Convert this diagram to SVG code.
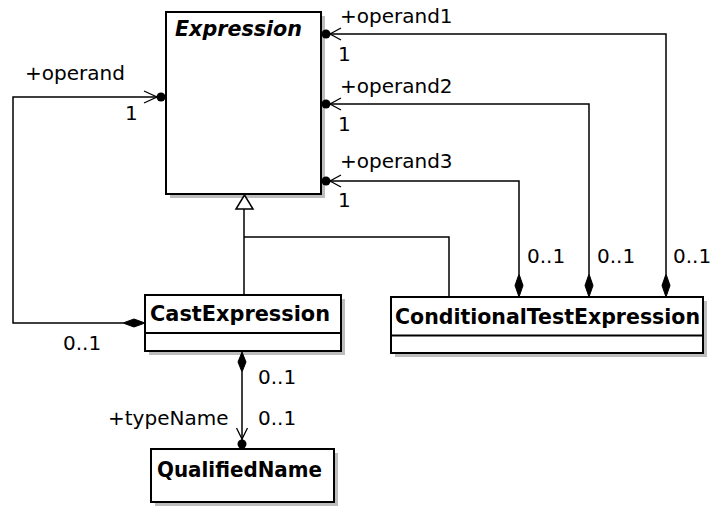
<svg xmlns="http://www.w3.org/2000/svg" width="711" height="506" viewBox="0 0 711 506">
<style>
.shadow{fill:#bdbdbd;stroke:none}
.box{fill:#fff;stroke:#000;stroke-width:2}
.div{stroke:#000;stroke-width:2}
.name{font-family:"DejaVu Sans",sans-serif;font-weight:bold;font-size:21px;fill:#000}
.lbl{font-family:"DejaVu Sans",sans-serif;font-size:20px;fill:#000}
.ln{fill:none;stroke:#000;stroke-width:1.5}
.dia{fill:#000;stroke:#000;stroke-width:1}
.dot{fill:#000}
.arr{fill:none;stroke:#000;stroke-width:1.3}
</style>
<rect width="711" height="506" fill="#fff"/>
<g id="Expression">
  <rect class="shadow" x="170" y="16" width="155" height="182"/>
  <rect class="box" x="166" y="12" width="155" height="182"/>
  <text class="name" x="175" y="36" font-style="italic" textLength="127" lengthAdjust="spacingAndGlyphs">Expression</text>
</g>
<g id="CastExpression">
  <rect class="shadow" x="149" y="299" width="196" height="56"/>
  <rect class="box" x="145" y="295" width="196" height="56"/>
  <line class="div" x1="145" y1="333" x2="341" y2="333"/>
  <text class="name" x="150" y="321" textLength="180" lengthAdjust="spacingAndGlyphs">CastExpression</text>
</g>
<g id="ConditionalTestExpression">
  <rect class="shadow" x="395" y="301" width="312" height="56"/>
  <rect class="box" x="391" y="297" width="312" height="56"/>
  <line class="div" x1="391" y1="335.5" x2="703" y2="335.5"/>
  <text class="name" x="395" y="323.5" textLength="305" lengthAdjust="spacingAndGlyphs">ConditionalTestExpression</text>
</g>
<g id="QualifiedName">
  <rect class="shadow" x="155" y="453" width="183" height="53"/>
  <rect class="box" x="151" y="449" width="183" height="53"/>
  <text class="name" x="157" y="477" textLength="165" lengthAdjust="spacingAndGlyphs">QualifiedName</text>
</g>
<g id="connectors">
  <!-- CastExpression -> Expression (operand) -->
  <polyline class="ln" points="123,323 13,323 13,97 161,97"/>
  <polygon class="dia" points="145,323 134,319 123,323 134,327"/>
  <polyline class="arr" points="144,91 157,97 144,103"/>
  <circle class="dot" cx="161" cy="97" r="4.5"/>
  <!-- operand1 -->
  <polyline class="ln" points="666,274 666,34 326,34"/>
  <polygon class="dia" points="666,297 662,285.5 666,274 670,285.5"/>
  <polyline class="arr" points="341,28 330,34 341,40"/>
  <circle class="dot" cx="326" cy="34" r="4.5"/>
  <!-- operand2 -->
  <polyline class="ln" points="589,274 589,104 326,104"/>
  <polygon class="dia" points="589,297 585,285.5 589,274 593,285.5"/>
  <polyline class="arr" points="341,98 330,104 341,110"/>
  <circle class="dot" cx="326" cy="104" r="4.5"/>
  <!-- operand3 -->
  <polyline class="ln" points="519,274 519,181 326,181"/>
  <polygon class="dia" points="519,297 515,285.5 519,274 523,285.5"/>
  <polyline class="arr" points="341,175 330,181 341,187"/>
  <circle class="dot" cx="326" cy="181" r="4.5"/>
  <!-- generalization -->
  <polyline class="ln" points="244,209 244,295"/>
  <polyline class="ln" points="244,237 449,237 449,297"/>
  <polygon points="244.5,195 236,209 253,209" fill="#fff" stroke="#000" stroke-width="1.5"/>
  <!-- typeName -->
  <line class="ln" x1="242" y1="372" x2="242" y2="444"/>
  <polygon class="dia" points="242,352 238,362 242,372 246,362"/>
  <polyline class="arr" points="236.5,428 242,439 247.5,428"/>
  <circle class="dot" cx="242" cy="444" r="4.5"/>
  <!-- labels -->
  <text class="lbl" x="25" y="80">+operand</text>
  <text class="lbl" x="125" y="120">1</text>
  <text class="lbl" x="63" y="350">0..1</text>
  <text class="lbl" x="340" y="23">+operand1</text>
  <text class="lbl" x="338" y="61">1</text>
  <text class="lbl" x="340" y="93">+operand2</text>
  <text class="lbl" x="338" y="131">1</text>
  <text class="lbl" x="340" y="168">+operand3</text>
  <text class="lbl" x="338" y="207">1</text>
  <text class="lbl" x="527" y="263">0..1</text>
  <text class="lbl" x="597" y="263">0..1</text>
  <text class="lbl" x="673" y="263">0..1</text>
  <text class="lbl" x="258" y="384">0..1</text>
  <text class="lbl" x="108" y="425">+typeName</text>
  <text class="lbl" x="258" y="425">0..1</text>
</g>
</svg>
